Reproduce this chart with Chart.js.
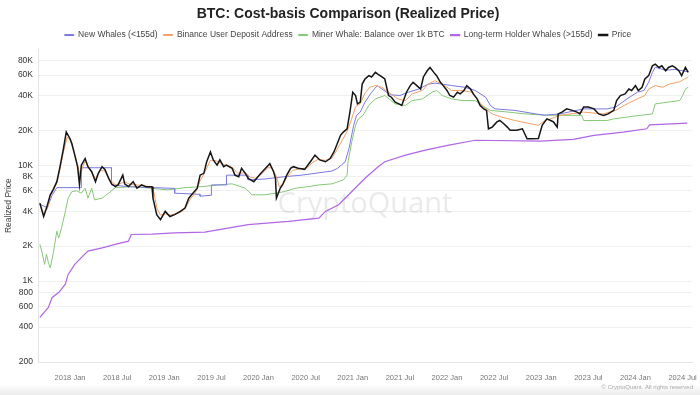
<!DOCTYPE html>
<html>
<head>
<meta charset="utf-8">
<script src="https://cdn.jsdelivr.net/npm/chart.js@4.4.1/dist/chart.umd.min.js"></script>
<style>
  html, body { margin: 0; padding: 0; background: #fff; }
  .wrap { position: relative; width: 700px; height: 395px; }
</style>
</head>
<body>
<div class="wrap"><canvas id="lineChart" width="700" height="395"></canvas></div>
<script>
// time is in decimal years, values in USD
const priceT = [2017.68,2017.72,2017.75,2017.79,2017.82,2017.86,2017.89,2017.93,2017.96,2018.00,2018.02,2018.05,2018.08,2018.10,2018.12,2018.16,2018.19,2018.23,2018.27,2018.30,2018.34,2018.37,2018.41,2018.44,2018.48,2018.51,2018.56,2018.58,2018.62,2018.67,2018.71,2018.76,2018.81,2018.87,2018.88,2018.92,2018.96,2019.01,2019.06,2019.11,2019.17,2019.22,2019.26,2019.29,2019.35,2019.38,2019.42,2019.45,2019.49,2019.52,2019.56,2019.59,2019.63,2019.66,2019.72,2019.75,2019.79,2019.82,2019.86,2019.89,2019.95,2019.98,2020.04,2020.09,2020.12,2020.16,2020.18,2020.19,2020.23,2020.26,2020.30,2020.34,2020.37,2020.42,2020.49,2020.55,2020.60,2020.65,2020.71,2020.76,2020.80,2020.83,2020.87,2020.90,2020.94,2020.97,2021.00,2021.03,2021.05,2021.08,2021.10,2021.13,2021.17,2021.20,2021.24,2021.27,2021.31,2021.34,2021.38,2021.41,2021.45,2021.49,2021.52,2021.57,2021.61,2021.64,2021.68,2021.72,2021.75,2021.79,2021.82,2021.86,2021.89,2021.93,2021.96,2022.00,2022.03,2022.07,2022.11,2022.14,2022.18,2022.21,2022.25,2022.28,2022.32,2022.35,2022.39,2022.42,2022.44,2022.48,2022.53,2022.56,2022.60,2022.64,2022.67,2022.71,2022.74,2022.80,2022.85,2022.90,2022.97,2023.01,2023.06,2023.10,2023.13,2023.17,2023.18,2023.22,2023.27,2023.33,2023.38,2023.41,2023.45,2023.50,2023.56,2023.61,2023.66,2023.71,2023.77,2023.80,2023.84,2023.89,2023.93,2023.96,2024.00,2024.03,2024.07,2024.10,2024.14,2024.18,2024.21,2024.25,2024.28,2024.32,2024.35,2024.39,2024.42,2024.46,2024.49,2024.53,2024.56];
const priceV = [4700,3600,4260,5550,6120,7200,9380,13900,19300,16900,15300,12200,9700,6800,10000,11400,9700,8780,7200,8500,9700,9200,7700,6900,6530,6750,8200,6900,6530,7200,6320,6750,6500,6500,5190,3740,3390,3990,3600,3740,3990,4260,5190,5550,6320,8200,8500,10700,13000,11100,10000,11100,9700,10000,9400,8200,7960,9400,8500,7700,7200,7700,8780,9700,10300,8780,7700,5190,6320,6900,8200,9400,9700,9400,9200,10700,12200,11100,10700,11400,13000,14900,18100,19300,20600,28700,42600,39900,33800,35000,50100,55400,59200,57700,63200,60700,57700,55400,39900,38600,35000,33800,32800,42600,48600,51900,48600,45400,57700,65300,69700,63200,59200,51900,48600,44100,39900,38600,42600,41200,44100,48600,45400,41200,37300,32800,30600,29700,20600,21300,23600,24300,22900,21300,20000,20000,20000,20600,16900,16900,17000,22100,25100,24300,23600,21300,27700,28700,30600,29700,28700,27700,31700,31700,30600,27700,26800,27700,29700,36100,39900,41200,45400,44100,48600,44100,47000,55400,59200,72100,74400,69700,72100,65300,69700,72100,69700,65300,59200,69700,63200];

const newWhaleT = [2017.68,2017.76,2017.81,2017.86,2018.12,2018.12,2018.44,2018.44,2018.64,2018.87,2019.11,2019.11,2019.38,2019.38,2019.50,2019.50,2019.66,2019.66,2019.89,2019.89,2020.07,2020.28,2020.46,2020.60,2020.78,2020.84,2020.92,2020.96,2021.01,2021.04,2021.08,2021.13,2021.20,2021.26,2021.30,2021.40,2021.50,2021.59,2021.70,2021.80,2021.87,2021.95,2022.05,2022.19,2022.30,2022.41,2022.46,2022.51,2022.72,2022.94,2023.04,2023.20,2023.45,2023.70,2023.79,2023.91,2024.02,2024.09,2024.14,2024.18,2024.21,2024.32,2024.42,2024.56];
const newWhaleV = [4600,4300,5500,6400,6400,9500,9500,6750,6500,6400,6300,5730,5600,5400,5500,6750,6750,8200,8200,7460,7600,7960,8200,8500,8900,9400,10700,13900,22100,26900,28700,35000,42600,48600,46000,40500,39900,42600,45400,50000,51000,50100,48600,47000,44100,38600,32800,30600,29700,27700,27000,27700,30600,30600,31700,37300,42600,44100,51900,63200,70000,66000,67000,64000];

const binanceT = [2017.68,2017.71,2017.76,2017.79,2017.82,2017.86,2017.89,2017.93,2017.97,2018.00,2018.05,2018.08,2018.11,2018.13,2018.16,2018.21,2018.27,2018.32,2018.37,2018.42,2018.48,2018.53,2018.58,2018.64,2018.76,2018.85,2018.89,2018.92,2018.96,2019.01,2019.06,2019.17,2019.22,2019.27,2019.33,2019.38,2019.43,2019.49,2019.54,2019.59,2019.65,2019.72,2019.78,2019.86,2019.91,2019.97,2020.04,2020.10,2020.14,2020.19,2020.22,2020.25,2020.30,2020.36,2020.44,2020.52,2020.57,2020.63,2020.71,2020.78,2020.83,2020.89,2020.94,2020.98,2021.03,2021.08,2021.13,2021.18,2021.24,2021.31,2021.38,2021.48,2021.56,2021.63,2021.74,2021.80,2021.87,2021.95,2022.05,2022.16,2022.26,2022.33,2022.41,2022.48,2022.58,2022.72,2022.87,2022.97,2023.04,2023.10,2023.20,2023.45,2023.66,2023.79,2023.88,2024.02,2024.10,2024.14,2024.21,2024.29,2024.36,2024.47,2024.56];
const binanceV = [4600,3800,4200,5400,6000,7000,9000,13000,17500,16500,12500,10000,8000,9500,10800,9200,7700,9000,8900,7500,6800,6900,7200,6800,6700,6500,5800,4300,3700,3800,3700,3900,4200,5000,5800,7300,8700,11000,11000,10500,10000,9600,8500,8600,7900,7700,8500,9500,9500,8000,6500,6700,7800,9000,9300,9500,10500,11200,11000,11500,13500,16500,19500,24000,32000,34000,42000,47000,48600,47000,42600,37300,36100,41200,44100,50100,53500,50100,44100,44100,42600,36100,30600,27700,26000,24300,22900,22100,24300,25100,26900,28700,27700,29700,32800,37300,39900,45400,48600,47000,50100,52500,57700];

const minerT = [2017.68,2017.70,2017.73,2017.75,2017.77,2017.79,2017.82,2017.86,2017.88,2017.91,2017.95,2017.98,2018.02,2018.07,2018.12,2018.16,2018.19,2018.23,2018.26,2018.34,2018.41,2018.48,2018.69,2018.87,2019.04,2019.22,2019.40,2019.57,2019.72,2019.86,2019.93,2020.07,2020.18,2020.28,2020.39,2020.53,2020.64,2020.78,2020.90,2020.94,2020.95,2020.99,2021.03,2021.06,2021.11,2021.17,2021.24,2021.34,2021.45,2021.56,2021.63,2021.74,2021.84,2021.89,2021.95,2022.05,2022.16,2022.30,2022.37,2022.46,2022.65,2022.83,2023.04,2023.43,2023.45,2023.70,2023.77,2024.05,2024.18,2024.21,2024.47,2024.50,2024.53,2024.56];
const minerV = [2070,1810,1390,1700,1440,1300,1700,2690,2350,2870,3990,5190,5920,6000,5730,6320,5190,6320,5020,5190,5730,6400,6530,6300,6120,6400,6530,6750,6900,6320,5550,5550,5730,5920,6320,6530,6750,6900,7460,8200,10700,15900,22100,25100,26900,32800,37300,39900,33800,32800,36100,37300,42600,44100,39900,37300,36100,36100,32800,29700,28700,27700,27000,26900,24300,24300,25100,26900,27700,33800,36100,39900,45400,47000];

const lthWhaleT = [2017.68,2017.77,2017.81,2017.88,2017.95,2017.98,2018.05,2018.12,2018.19,2018.34,2018.48,2018.62,2018.65,2018.87,2019.11,2019.43,2019.89,2020.32,2020.64,2020.71,2020.85,2020.99,2021.13,2021.27,2021.34,2021.56,2021.77,2022.02,2022.30,2022.99,2023.34,2023.56,2023.87,2024.12,2024.15,2024.55];
const lthWhaleV = [486,592,721,796,940,1140,1390,1590,1810,1930,2070,2210,2520,2540,2600,2640,3070,3270,3490,3990,4550,5920,7700,9700,10700,12200,13500,14900,16400,16100,16700,18100,19300,20600,22300,23100];

const yTicks = [200,400,600,800,1000,2000,4000,6000,8000,10000,20000,40000,60000,80000];
const xTicks = [2018,2018.5,2019,2019.5,2020,2020.5,2021,2021.5,2022,2022.5,2023,2023.5,2024,2024.5];

function pts(t, v){
    return t.map((x, i) => ({x: x, y: v[i]}));
}

const extras = {
    id: "extras",
    beforeDatasetsDraw(chart){
        const c = chart.ctx;
        const a = chart.chartArea;
        c.save();
        c.font = "29px 'Open Sans', sans-serif";
        c.fillStyle = "rgba(185,185,195,0.3)";
        c.textAlign = "center";
        c.textBaseline = "middle";
        c.fillText("CryptoQuant", (a.left + a.right) / 2, 205);
        c.restore();
    },
    afterDraw(chart){
        const c = chart.ctx;
        c.save();
        c.font = "6px 'Liberation Sans', sans-serif";
        c.fillStyle = "#999";
        c.textAlign = "right";
        c.textBaseline = "middle";
        c.fillText("\u00a9 CryptoQuant. All rights reserved", 693, 387);
        const g = c.createLinearGradient(0, 384, 0, 395);
        g.addColorStop(0, "rgba(230,230,230,0)");
        g.addColorStop(1, "rgba(225,225,225,0.7)");
        c.fillStyle = g;
        c.fillRect(0, 384, 700, 11);
        c.restore();
    }
};

const font = "'Liberation Sans', Arial, sans-serif";

const ctx = document.getElementById("lineChart");
const lineChart = new Chart(ctx, {
    type: "line",
    data: {
        datasets: [
            { label: "New Whales (<155d)", data: pts(newWhaleT, newWhaleV), borderColor: "#7b78e0", backgroundColor: "#7b78e0", borderWidth: 1, order: 2 },
            { label: "Binance User Deposit Address", data: pts(binanceT, binanceV), borderColor: "#f2a066", backgroundColor: "#f2a066", borderWidth: 1, order: 1 },
            { label: "Miner Whale: Balance over 1k BTC", data: pts(minerT, minerV), borderColor: "#86c876", backgroundColor: "#86c876", borderWidth: 1, order: 3 },
            { label: "Long-term Holder Whales (>155d)", data: pts(lthWhaleT, lthWhaleV), borderColor: "#b066e6", backgroundColor: "#b066e6", borderWidth: 1.2, order: 4 },
            { label: "Price", data: pts(priceT, priceV), borderColor: "#151515", backgroundColor: "#151515", borderWidth: 1.5, order: 0 }
        ]
    },
    options: {
        responsive: false,
        animation: false,
        devicePixelRatio: 1,
        layout: { padding: { left: 4, right: 8, top: 0, bottom: 0 } },
        elements: { point: { radius: 0 }, line: { tension: 0 } },
        plugins: {
            title: {
                display: true,
                text: "BTC: Cost-basis Comparison (Realized Price)",
                color: "#222",
                font: { family: font, size: 14, weight: "bold" },
                padding: { top: 6, bottom: 2 }
            },
            legend: {
                display: true,
                labels: {
                    color: "#444",
                    font: { family: font, size: 8.5 },
                    boxWidth: 9,
                    boxHeight: 1,
                    padding: 6,
                    sort: (a, b) => a.datasetIndex - b.datasetIndex
                }
            },
            tooltip: { enabled: false }
        },
        scales: {
            x: {
                type: "linear",
                min: 2017.66,
                max: 2024.6,
                afterBuildTicks: (scale) => { scale.ticks = xTicks.map(v => ({ value: v })); },
                afterFit: (scale) => { scale.height = 33; },
                ticks: {
                    color: "#777",
                    font: { family: font, size: 7.5 },
                    maxRotation: 0,
                    autoSkip: false,
                    padding: 3,
                    callback: (v) => Math.floor(v + 0.001) + (v % 1 > 0.25 ? " Jul" : " Jan")
                },
                grid: { display: false },
                border: { color: "#e4e4e4" }
            },
            y: {
                type: "logarithmic",
                min: 200,
                max: 100000,
                afterBuildTicks: (scale) => { scale.ticks = yTicks.map(v => ({ value: v })); },
                afterFit: (scale) => { scale.width = 34; },
                title: {
                    display: true,
                    text: "Realized Price",
                    color: "#444",
                    font: { family: font, size: 8.5 },
                    padding: 0
                },
                ticks: {
                    color: "#333",
                    font: { family: font, size: 8.5 },
                    padding: 5,
                    callback: (v) => v >= 1000 ? (v / 1000) + "K" : String(v)
                },
                grid: { color: "#f0f0f0", drawTicks: false },
                border: { color: "#e4e4e4" }
            }
        }
    },
    plugins: [extras]
});
</script>
</body>
</html>
